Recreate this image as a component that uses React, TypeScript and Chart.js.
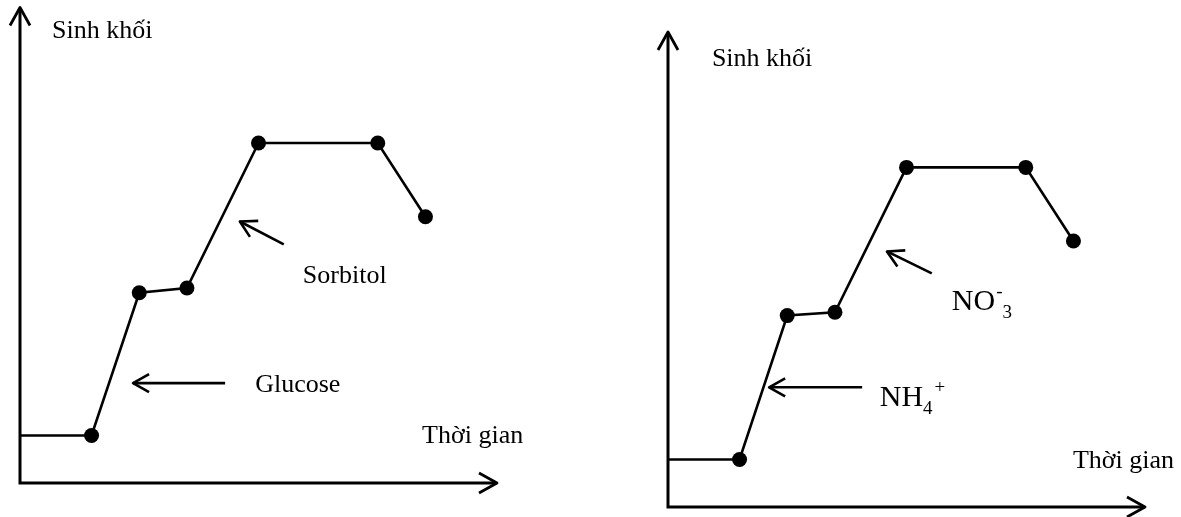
import React, { useEffect, useRef } from "react";
import { Chart, registerables } from "chart.js";

Chart.register(...registerables);

// ---- data (time units vs biomass units) ----
const timePoints = [0, 1.5, 2.5, 3.5, 5, 7.5, 8.5];
const biomassCarbon = [1, 1, 4, 4.1, 7.15, 7.15, 5.6];
const biomassNitrogen = [1, 1, 4.03, 4.1, 7.15, 7.15, 5.6];
const markerRadius = [0, 7.5, 7.5, 7.5, 7.5, 7.5, 7.5];

const yAxisTitle = "Sinh khối";
const xAxisTitle = "Thời gian";
const carbonLabels = ["Glucose", "Sorbitol"];
const nitrogenLabels = ["NH4+", "NO3-"];

const FONT = '"Liberation Serif", "Times New Roman", serif';

type Part = { t: string; size: number; dy: number; gap?: number };
type Label = { x: number; y: number; parts: Part[] };
type Arrow = { from: [number, number]; to: [number, number] };

function plain(t: string, size = 26): Part[] {
  return [{ t, size, dy: 0 }];
}

const panels = [
  {
    values: biomassCarbon,
    padding: { left: 20, top: 7, right: 1181 - 497, bottom: 517 - 483 },
    labels: [
      { x: 0.67, y: 9.35, parts: plain(yAxisTitle) },
      { x: 8.43, y: 0.84, parts: plain(xAxisTitle) },
      { x: 4.93, y: 1.91, parts: plain(carbonLabels[0]) },
      { x: 5.93, y: 4.2, parts: plain(carbonLabels[1]) },
    ] as Label[],
    arrows: [
      { from: [4.3, 2.1], to: [2.37, 2.1] },
      { from: [5.53, 5.02], to: [4.61, 5.5] },
    ] as Arrow[],
  },
  {
    values: biomassNitrogen,
    padding: { left: 668, top: 32, right: 1181 - 1145, bottom: 517 - 507 },
    labels: [
      { x: 0.92, y: 9.29, parts: plain(yAxisTitle) },
      { x: 8.49, y: 0.82, parts: plain(xAxisTitle) },
      {
        x: 4.44,
        y: 2.12,
        parts: [
          { t: nitrogenLabels[0].slice(0, 2), size: 30, dy: 0 },
          { t: nitrogenLabels[0].slice(2, 3), size: 19, dy: 8 },
          { t: nitrogenLabels[0].slice(3), size: 19, dy: -13, gap: 2 },
        ],
      },
      {
        x: 5.95,
        y: 4.14,
        parts: [
          { t: nitrogenLabels[1].slice(0, 2), size: 30, dy: 0 },
          { t: nitrogenLabels[1].slice(3), size: 19, dy: -13, gap: 1 },
          { t: nitrogenLabels[1].slice(2, 3), size: 19, dy: 8 },
        ],
      },
    ] as Label[],
    arrows: [
      { from: [4.07, 2.52], to: [2.12, 2.52] },
      { from: [5.53, 4.92], to: [4.59, 5.38] },
    ] as Arrow[],
  },
];

function chevron(
  ctx: CanvasRenderingContext2D,
  fx: number,
  fy: number,
  tx: number,
  ty: number,
  len: number,
  half: number
) {
  const ang = Math.atan2(ty - fy, tx - fx);
  const bx = tx - len * Math.cos(ang);
  const by = ty - len * Math.sin(ang);
  const nx = -Math.sin(ang) * half;
  const ny = Math.cos(ang) * half;
  ctx.beginPath();
  ctx.moveTo(bx + nx, by + ny);
  ctx.lineTo(tx, ty);
  ctx.lineTo(bx - nx, by - ny);
  ctx.stroke();
}

const sketchPlugin = {
  id: "sketch",
  beforeDatasetsDraw(chart: any) {
    const { ctx, chartArea } = chart;
    const { left, right, top, bottom } = chartArea;
    ctx.save();
    ctx.strokeStyle = "#000";
    ctx.lineWidth = 3;
    ctx.lineCap = "butt";
    ctx.lineJoin = "miter";
    ctx.beginPath();
    ctx.moveTo(left, top + 1);
    ctx.lineTo(left, bottom);
    ctx.lineTo(right - 1, bottom);
    ctx.stroke();
    ctx.lineWidth = 2.8;
    ctx.lineJoin = "round";
    chevron(ctx, left, bottom, left, top, 18, 10);
    chevron(ctx, left, bottom, right, bottom, 18, 10);
    ctx.restore();
  },
  afterDatasetsDraw(chart: any) {
    const opts = chart.options.plugins.sketch;
    const { ctx } = chart;
    const xs = chart.scales.x;
    const ys = chart.scales.y;
    ctx.save();
    ctx.strokeStyle = "#000";
    ctx.fillStyle = "#000";
    ctx.lineWidth = 2.6;
    ctx.lineJoin = "round";
    for (const a of opts.arrows as Arrow[]) {
      const fx = xs.getPixelForValue(a.from[0]);
      const fy = ys.getPixelForValue(a.from[1]);
      const tx = xs.getPixelForValue(a.to[0]);
      const ty = ys.getPixelForValue(a.to[1]);
      ctx.beginPath();
      ctx.moveTo(fx, fy);
      ctx.lineTo(tx, ty);
      ctx.stroke();
      chevron(ctx, fx, fy, tx, ty, 16, 9);
    }
    ctx.textBaseline = "alphabetic";
    ctx.textAlign = "left";
    for (const l of opts.labels as Label[]) {
      let x = xs.getPixelForValue(l.x);
      const y = ys.getPixelForValue(l.y);
      for (const p of l.parts) {
        ctx.font = `${p.size}px ${FONT}`;
        x += p.gap || 0;
        ctx.fillText(p.t, x, y + p.dy);
        x += ctx.measureText(p.t).width;
      }
    }
    ctx.restore();
  },
};

function Panel({ cfg }: { cfg: (typeof panels)[number] }) {
  const ref = useRef<HTMLCanvasElement | null>(null);
  useEffect(() => {
    if (!ref.current) return;
    const chart = new Chart(ref.current, {
      type: "line",
      data: {
        labels: timePoints,
        datasets: [
          {
            data: timePoints.map((t, i) => ({ x: t, y: cfg.values[i] })),
            borderColor: "#000",
            borderWidth: 2.6,
            backgroundColor: "#000",
            pointBackgroundColor: "#000",
            pointBorderWidth: 0,
            pointRadius: markerRadius,
            tension: 0,
            fill: false,
            clip: false as any,
          },
        ],
      },
      options: {
        animation: false,
        responsive: false,
        maintainAspectRatio: false,
        events: [],
        layout: { padding: cfg.padding },
        scales: {
          x: { type: "linear", min: 0, max: 10, display: false },
          y: { type: "linear", min: 0, max: 10, display: false },
        },
        plugins: {
          legend: { display: false },
          tooltip: { enabled: false },
          sketch: { labels: cfg.labels, arrows: cfg.arrows },
        } as any,
      },
      plugins: [sketchPlugin],
    });
    return () => chart.destroy();
  }, [cfg]);
  return (
    <canvas
      ref={ref}
      width={1181}
      height={517}
      style={{ position: "absolute", left: 0, top: 0, width: 1181, height: 517 }}
    />
  );
}

export default function App() {
  useEffect(() => {
    document.body.style.margin = "0";
    document.body.style.background = "#fff";
  }, []);
  return (
    <div style={{ position: "relative", width: 1181, height: 517, background: "#fff" }}>
      {panels.map((p, i) => (
        <Panel key={i} cfg={p} />
      ))}
    </div>
  );
}
